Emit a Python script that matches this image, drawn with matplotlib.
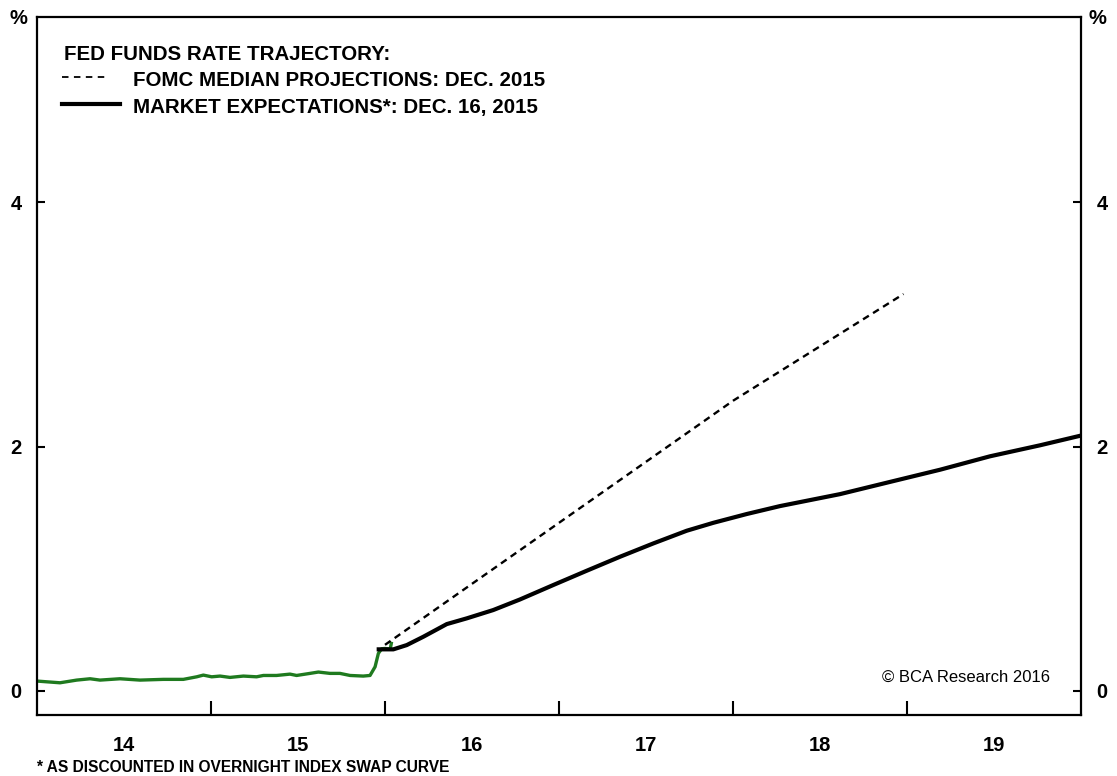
#! /usr/bin/env python
# -*- coding: utf-8 -*-

import matplotlib.pyplot as plt
import matplotlib as mpl
from matplotlib import font_manager

params = {
    'font.family': ['Liberation Sans', 'DejaVu Sans'],
    'font.size': 14,
    'font.weight': 'bold',
    'axes.linewidth': 1.6,
}
mpl.rcParams.update(params)

# fed funds effective rate (green)
ff_year = [2014.00, 2014.132, 2014.228, 2014.305, 2014.362, 2014.477, 2014.592,
           2014.726, 2014.841, 2014.918, 2014.956, 2015.004, 2015.052, 2015.109,
           2015.186, 2015.262, 2015.301, 2015.377, 2015.454, 2015.492, 2015.569,
           2015.617, 2015.684, 2015.741, 2015.799, 2015.875, 2015.914, 2015.943,
           2015.962, 2015.981, 2016.000, 2016.030, 2016.038]
ff_rate = [0.078, 0.064, 0.086, 0.097, 0.086, 0.097, 0.086,
           0.092, 0.092, 0.113, 0.127, 0.113, 0.119, 0.108,
           0.119, 0.113, 0.124, 0.124, 0.135, 0.124, 0.141,
           0.152, 0.141, 0.141, 0.124, 0.119, 0.124, 0.195,
           0.305, 0.343, 0.345, 0.340, 0.400]

# FOMC median projections, Dec 2015 (dashed)
fomc_year = [2016.0, 2017.0, 2018.0, 2018.98]
fomc_rate = [0.375, 1.375, 2.375, 3.25]

# market expectations, Dec 16 2015 (solid black)
mkt_year = [2015.952, 2016.048, 2016.125, 2016.22, 2016.355, 2016.47, 2016.622,
            2016.776, 2016.967, 2017.159, 2017.351, 2017.542, 2017.734, 2017.887,
            2018.079, 2018.27, 2018.615, 2018.902, 2019.19, 2019.477, 2019.764,
            2020.0]
mkt_rate = [0.338, 0.338, 0.373, 0.441, 0.545, 0.592, 0.66,
            0.747, 0.865, 0.982, 1.097, 1.206, 1.31, 1.375,
            1.447, 1.512, 1.61, 1.71, 1.81, 1.92, 2.01,
            2.09]

year_ticks = [2015, 2016, 2017, 2018, 2019]
year_label_pos = [2014.5, 2015.5, 2016.5, 2017.5, 2018.5, 2019.5]
year_labels = ['14', '15', '16', '17', '18', '19']
y_ticks = [0, 2, 4]

W, H = 1117, 776
fig = plt.figure(figsize=(W / 100, H / 100), dpi=100)
ax = fig.add_axes([37 / W, 1 - 715 / H, (1081 - 37) / W, (715 - 17) / H])

ax.plot(ff_year, ff_rate, color='#1f7a1f', lw=2.4, solid_capstyle='butt', zorder=2)
ax.plot(fomc_year, fomc_rate, color='black', lw=1.7, dashes=(2.9, 2.1), zorder=2)
ax.plot(mkt_year, mkt_rate, color='black', lw=3.0, solid_capstyle='butt', zorder=3)

ax.set_xlim(2014.0, 2020.0)
ax.set_ylim(-0.20, 5.52)

tick_font = {'family': ['Liberation Sans', 'DejaVu Sans'], 'weight': 'bold', 'size': 14.5}

ax.set_xticks(year_ticks)
ax.set_xticklabels([])
ax.set_xticks(year_label_pos, minor=True)
ax.set_xticklabels(year_labels, minor=True, fontdict=tick_font)
ax.tick_params(axis='x', which='major', direction='in', length=10, width=1.5)
ax.tick_params(axis='x', which='minor', length=0, pad=15)

ax.set_yticks(y_ticks)
ax.set_yticklabels([str(v) for v in y_ticks], fontdict=tick_font)
ax.tick_params(axis='y', direction='in', length=6, width=1.5, pad=11,
               left=True, right=True, labelleft=True, labelright=True)
for lab in ax.get_yticklabels(which='both'):
    lab.set_fontproperties(font_manager.FontProperties(**tick_font))

fig.text(18 / W, 1 - 18 / H, '%', ha='center', va='center', fontdict=tick_font)
fig.text(1097 / W, 1 - 18 / H, '%', ha='center', va='center', fontdict=tick_font)

# legend block drawn as text + sample lines
leg_font = {'family': ['Liberation Sans', 'DejaVu Sans'], 'weight': 'bold', 'size': 14.8}
fig.text(64 / W, 1 - 55 / H, 'FED FUNDS RATE TRAJECTORY:', ha='left', va='center',
         fontdict=leg_font)
ax.plot([62 / W, 106 / W], [1 - 77 / H, 1 - 77 / H], transform=fig.transFigure,
        color='black', lw=1.3, dashes=(3.6, 3.0), clip_on=False)
fig.text(133 / W, 1 - 80 / H, 'FOMC MEDIAN PROJECTIONS: DEC. 2015', ha='left', va='center',
         fontdict=leg_font)
ax.plot([62 / W, 120 / W], [1 - 104 / H, 1 - 104 / H], transform=fig.transFigure,
        color='black', lw=3.0, clip_on=False)
fig.text(133 / W, 1 - 107 / H, 'MARKET EXPECTATIONS*: DEC. 16, 2015', ha='left', va='center',
         fontdict=leg_font)

fig.text(1050 / W, 1 - 677 / H, '\u00a9 BCA Research 2016', ha='right', va='center',
         fontsize=12, fontweight='normal')
fig.text(37 / W, 1 - 768 / H, '* AS DISCOUNTED IN OVERNIGHT INDEX SWAP CURVE',
         ha='left', va='center', fontsize=11.2)

fig.savefig('out.png', dpi=100)
plt.close()
